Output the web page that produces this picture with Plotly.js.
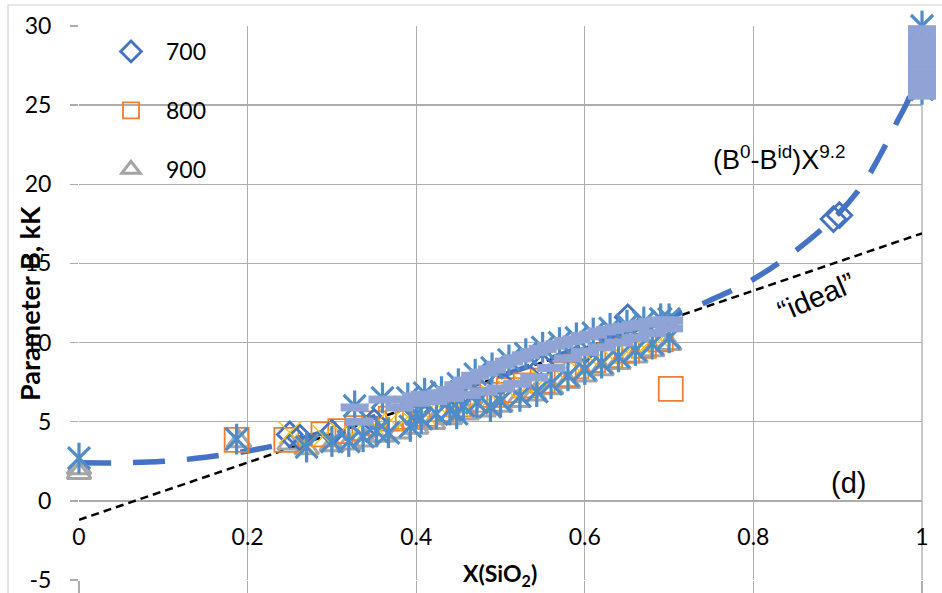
<!DOCTYPE html>
<html>
<head>
<meta charset="utf-8">
<script src="https://cdn.plot.ly/plotly-3.0.1.min.js"></script>
<style>html,body{margin:0;padding:0;background:#fff}#chart{width:942px;height:593px}</style>
</head>
<body>
<div id="chart"></div>
<script>
// ---- data ----
const fitX   = [0, 0.05, 0.1, 0.15, 0.2, 0.25, 0.3, 0.35, 0.4, 0.45, 0.5, 0.55, 0.6, 0.65, 0.7, 0.75, 0.8, 0.85, 0.9, 0.93, 0.95, 0.97, 0.985, 0.995];
const fitY   = [2.4, 2.4, 2.5, 2.75, 3.15, 3.7, 4.5, 5.3, 6.1, 7.0, 7.9, 8.8, 9.8, 10.7, 11.6, 12.7, 14.0, 15.8, 18.1, 20.0, 21.8, 23.9, 25.5, 27.5];
const idealX = [0, 1];
const idealY = [-1.2, 16.9];

const s700X = [0.25, 0.262, 0.30, 0.35, 0.40, 0.45, 0.50, 0.55, 0.60, 0.651, 0.895, 0.902];
const s700Y = [4.2, 4.0, 4.3, 5.0, 5.8, 6.6, 7.5, 8.5, 9.5, 11.6, 17.8, 18.05];

const s800X = [0.187, 0.246, 0.29, 0.31, 0.33, 0.35, 0.37, 0.39, 0.41, 0.43, 0.45, 0.47, 0.49, 0.51, 0.53, 0.55, 0.575, 0.59, 0.61, 0.63, 0.65, 0.67, 0.69, 0.702];
const s800Y = [3.85, 3.85, 4.2, 4.4, 4.6, 4.9, 5.2, 5.3, 5.5, 5.8, 6.1, 6.4, 6.7, 7.0, 7.3, 7.6, 8.0, 8.5, 8.9, 9.2, 9.5, 9.8, 10.2, 7.07];

const s900X = [0, 0, 0.19, 0.25, 0.27, 0.30, 0.32, 0.34, 0.36, 0.38, 0.40, 0.42, 0.44, 0.46, 0.48, 0.50, 0.52, 0.54, 0.56, 0.58, 0.60, 0.62, 0.64, 0.66, 0.68, 0.70];
const s900Y = [1.75, 2.05, 3.75, 3.6, 3.3, 3.5, 3.6, 3.8, 4.1, 4.3, 4.6, 4.9, 5.2, 5.5, 5.7, 6.0, 6.3, 6.7, 7.1, 7.5, 7.9, 8.3, 8.7, 9.1, 9.5, 9.9];

const starX = [0, 0.187, 0.27, 0.30, 0.32, 0.337, 0.353, 0.367, 0.393, 0.40, 0.406, 0.424, 0.44, 0.448, 0.456, 0.472, 0.488, 0.50, 0.523, 0.543, 0.56, 0.58, 0.60, 0.62, 0.64, 0.66, 0.68, 0.70,
               0.327, 0.36, 0.39, 0.41, 0.43, 0.45, 0.47, 0.49, 0.51, 0.53, 0.55, 0.57, 0.59, 0.61, 0.63, 0.65, 0.67, 0.69, 0.70,
               1, 1, 1, 1, 1];
const starY = [2.7, 3.9, 3.4, 3.75, 3.75, 4.05, 4.4, 4.3, 4.7, 5.5, 5.2, 5.5, 5.75, 5.5, 6.0, 6.2, 5.95, 6.3, 6.6, 6.9, 7.4, 7.9, 8.3, 8.7, 9.1, 9.5, 9.9, 10.3,
               6.0, 6.5, 6.5, 6.8, 6.9, 7.4, 8.0, 8.4, 8.9, 9.3, 9.7, 10.0, 10.3, 10.6, 10.9, 11.1, 11.3, 11.5, 11.5,
               26, 27, 28, 29, 30];

const goldX = [0, 0.187, 0.25, 0.27, 0.29, 0.31, 0.33, 0.35, 0.37, 0.39, 0.41, 0.43, 0.45, 0.47, 0.49, 0.51, 0.53, 0.55, 0.57, 0.59, 0.61, 0.63, 0.65, 0.67, 0.69, 1, 1, 1, 1, 1];
const goldY = [2.7, 3.9, 4.3, 3.5, 4.1, 4.3, 4.5, 4.8, 5.1, 5.3, 5.5, 5.8, 6.0, 6.3, 6.6, 6.9, 7.2, 7.6, 8.0, 8.4, 8.8, 9.1, 9.4, 9.7, 10.2, 26, 27, 28, 29, 30];

const dashX = [0.327, 0.333, 0.36, 0.39, 0.40, 0.41, 0.42, 0.43, 0.44, 0.45, 0.46, 0.47, 0.48, 0.49, 0.50, 0.51, 0.52, 0.53, 0.54, 0.55, 0.56, 0.57, 0.58, 0.59, 0.60, 0.61, 0.62, 0.63, 0.64, 0.65, 0.66, 0.67, 0.68, 0.69, 0.70,
               0.38, 0.40, 0.42, 0.44, 0.46, 0.48, 0.50, 0.52, 0.54, 0.56, 0.58, 0.60, 0.62, 0.64, 0.66, 0.68, 0.70,
               1, 1, 1, 1, 1, 1, 1, 1, 1, 1, 1, 1, 1, 1];
const dashY = [5.9, 5.0, 6.4, 6.4, 6.6, 6.7, 6.7, 6.8, 7.0, 7.3, 7.6, 7.9, 8.1, 8.3, 8.6, 8.8, 9.0, 9.2, 9.4, 9.6, 9.8, 9.9, 10.1, 10.2, 10.4, 10.5, 10.7, 10.8, 10.9, 11.0, 11.1, 11.2, 11.3, 11.4, 11.4,
               5.9, 6.2, 6.3, 6.5, 6.7, 6.9, 7.1, 7.4, 7.8, 8.4, 9.0, 9.4, 9.7, 10.0, 10.3, 10.6, 10.9,
               25.6, 25.9, 26.2, 26.5, 26.8, 27.1, 27.4, 27.7, 28.0, 28.3, 28.6, 28.9, 29.3, 29.8];

const xTicks = [0, 0.2, 0.4, 0.6, 0.8, 1];
const xTickText = ['0', '0.2', '0.4', '0.6', '0.8', '1'];
const yTicks = [-5, 0, 5, 10, 15, 20, 25, 30];
const yTickText = ['-5', '0', '5', '10', '15', '20', '25', '30'];

// ---- styling ----
const tickFont = {family: 'Lato, "Open Sans", sans-serif', size: 23, color: '#000'};
const grid = '#ADADAD';
const steel = '#4F8DC9';

const traces = [
  {x: idealX, y: idealY, mode: 'lines', line: {color: '#000', width: 2.5, dash: '8px,5px'}, showlegend: false, hoverinfo: 'skip'},
  // same ideal line referenced on the overlay axis so its tick marks (below the plot) are drawn
  {x: idealX, y: idealY, xaxis: 'x2', mode: 'lines', line: {color: 'rgba(0,0,0,0)', width: 0}, showlegend: false, hoverinfo: 'skip'},
  {x: fitX, y: fitY, mode: 'lines', line: {color: '#4472C4', width: 5.5, dash: '32px,22px', shape: 'spline'}, showlegend: false, hoverinfo: 'skip'},
  {x: s900X, y: s900Y, name: '900', legendgroup: 'c', legendrank: 3, mode: 'markers', cliponaxis: false,
   marker: {symbol: 'triangle-up-open', size: 21, color: '#A5A5A5', line: {width: 3, color: '#A5A5A5'}}},
  {x: s800X, y: s800Y, name: '800', legendgroup: 'b', legendrank: 2, mode: 'markers', cliponaxis: false,
   marker: {symbol: 'square-open', size: 24, color: '#ED7D31', line: {width: 1.8, color: '#ED7D31'}}},
  {x: s700X, y: s700Y, name: '700', legendgroup: 'a', legendrank: 1, mode: 'markers', cliponaxis: false,
   marker: {symbol: 'diamond-open', size: 19, color: '#4472C4', line: {width: 2.8, color: '#4472C4'}}},
  {x: goldX, y: goldY, mode: 'markers', showlegend: false, cliponaxis: false,
   marker: {symbol: 'x-thin-open', size: 22, color: '#FFC000', line: {width: 1.3, color: '#FFC000'}}},
  {x: starX, y: starY, mode: 'markers', showlegend: false, cliponaxis: false,
   marker: {symbol: 'x-thin-open', size: 22, color: steel, line: {width: 3.2, color: steel}}},
  {x: starX, y: starY, mode: 'markers', showlegend: false, cliponaxis: false,
   marker: {symbol: 'line-ns-open', size: 22, color: steel, line: {width: 3.2, color: steel}}},
  {x: dashX, y: dashY, mode: 'markers', showlegend: false, cliponaxis: false,
   marker: {symbol: 'line-ew-open', size: 20, color: '#8FA3D5', line: {width: 8, color: '#8FA3D5'}}}
];

const W = 942, H = 593, L = 79, R = 20, T = 26, B = 13;
const pw = W - L - R, ph = H - T - B;
const px = v => (v - L) / pw;          // pixel x -> paper
const py = v => (H - B - v) / ph;      // pixel y -> paper

const ann = (text, x, y, font, extra) => Object.assign({text: text, xref: 'paper', yref: 'paper', x: px(x), y: py(y),
  xanchor: 'center', yanchor: 'middle', showarrow: false, font: font}, extra || {});

const layout = {
  width: W, height: H,
  margin: {l: L, r: R, t: T, b: B},
  paper_bgcolor: '#fff', plot_bgcolor: '#fff',
  showlegend: true,
  legend: {x: px(96), y: py(30), xanchor: 'left', yanchor: 'top', bgcolor: 'rgba(0,0,0,0)',
           font: {family: 'Lato, sans-serif', size: 23, color: '#000'}, tracegroupgap: 26, traceorder: 'grouped',
           itemwidth: 60},
  xaxis: {range: [0, 1], tickvals: xTicks, ticktext: xTickText, showgrid: true, gridcolor: grid, gridwidth: 1.3,
          zeroline: false, showline: false, ticks: '', anchor: 'free', position: py(501),
          ticklabelstandoff: 20, tickfont: tickFont, fixedrange: true},
  xaxis2: {range: [0, 1], tickvals: xTicks, overlaying: 'x', anchor: 'free', position: 0, side: 'bottom',
           showticklabels: false, showgrid: false, zeroline: false, showline: false,
           ticks: 'outside', ticklen: 14, tickcolor: grid, tickwidth: 1.3, fixedrange: true},
  yaxis: {range: [-5, 30], tickvals: yTicks, ticktext: yTickText, showgrid: true, gridcolor: grid, gridwidth: 1.3,
          zeroline: false, showline: false, ticks: 'outside', ticklen: 8, tickcolor: grid, tickwidth: 1.3,
          ticklabelstandoff: 14, ticklabeloverflow: 'allow', tickfont: tickFont, fixedrange: true},
  shapes: [
    {type: 'rect', xref: 'paper', yref: 'paper', x0: px(8), x1: px(960), y0: py(610), y1: py(5),
     line: {color: '#D0D0D0', width: 1.2}, layer: 'below'},
    {type: 'line', xref: 'paper', yref: 'paper', x0: 1, x1: 1, y0: 0, y1: 1, line: {color: grid, width: 1.3}, layer: 'below'}
  ],
  annotations: [
    ann('Parameter B, kK', 29, 304, {family: 'Lato, sans-serif', size: 27, color: '#000', weight: 'bold'}, {textangle: -90}),
    ann('X(SiO<sub>2</sub>)', 500, 574, {family: 'Lato, sans-serif', size: 23, color: '#000', weight: 'bold'}),
    ann('(B<sup>0</sup>-B<sup>id</sup>)X<sup>9.2</sup>', 779, 158, {family: '"Liberation Sans", Arial, sans-serif', size: 27, color: '#000'}),
    ann('\u201Cideal\u201D', 816, 297, {family: '"Liberation Sans", Arial, sans-serif', size: 29, color: '#000'}, {textangle: -23}),
    ann('(d)', 848, 483, {family: '"Liberation Sans", Arial, sans-serif', size: 29, color: '#000'})
  ]
};

Plotly.newPlot('chart', traces, layout, {staticPlot: true, displayModeBar: false});
</script>
</body>
</html>
